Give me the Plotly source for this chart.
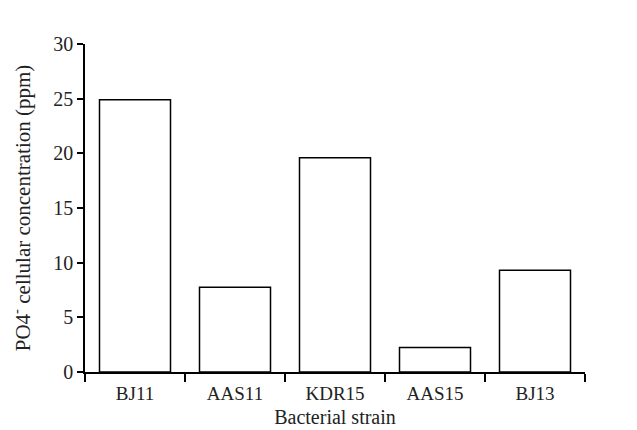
import plotly.graph_objects as go

strains = ["BJ11", "AAS11", "KDR15", "AAS15", "BJ13"]
po4_ppm = [24.9, 7.75, 19.6, 2.25, 9.3]
y_ticks = [0, 5, 10, 15, 20, 25, 30]

FONT = "Liberation Serif, Times New Roman, serif"

fig = go.Figure(
    go.Bar(
        x=strains,
        y=po4_ppm,
        width=0.71,
        marker=dict(color="white", line=dict(color="black", width=1.5)),
    )
)

fig.update_layout(
    width=637,
    height=430,
    margin=dict(l=77, r=60, t=36, b=66),
    plot_bgcolor="white",
    paper_bgcolor="white",
    font=dict(family=FONT, size=19, color="#222"),
    showlegend=False,
)

fig.update_xaxes(
    type="category",
    range=[-0.5, 4.5],
    automargin=False,
    showline=True,
    linecolor="black",
    linewidth=1.5,
    ticks="outside",
    tickson="boundaries",
    ticklen=8,
    tickcolor="black",
    tickwidth=1.5,
    showgrid=False,
    tickfont=dict(family=FONT, size=19),
    ticklabelstandoff=3,
    title=dict(text="Bacterial strain", font=dict(family=FONT, size=20), standoff=7),
)

fig.update_yaxes(
    range=[0, 30],
    tickvals=y_ticks,
    automargin=False,
    showline=True,
    linecolor="black",
    linewidth=1.5,
    ticks="outside",
    ticklen=6,
    tickcolor="black",
    tickwidth=1.5,
    showgrid=False,
    zeroline=False,
    tickfont=dict(family=FONT, size=20),
    title=dict(
        text="PO4<sup>-</sup> cellular concentration (ppm)",
        font=dict(family=FONT, size=21),
        standoff=24,
    ),
)

fig.write_html("out.html")
